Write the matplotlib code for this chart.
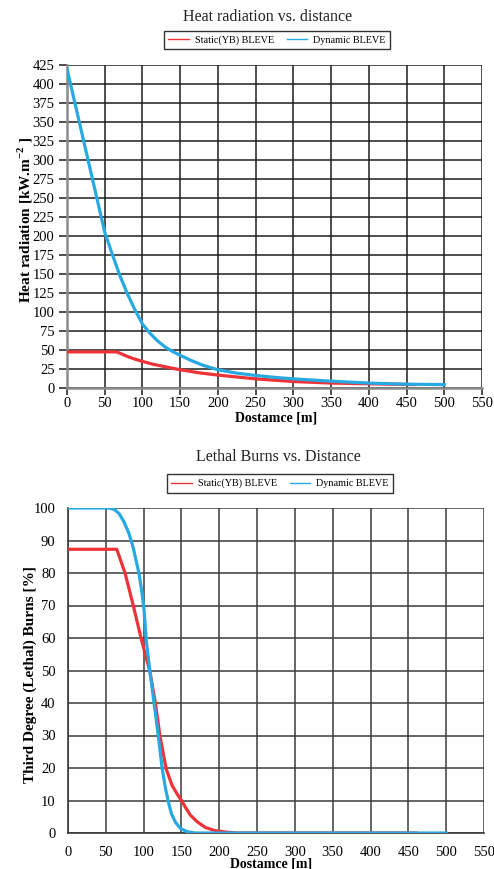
import numpy as np
import matplotlib
matplotlib.use("Agg")
import matplotlib.pyplot as plt

plt.rcParams['font.family'] = ['Liberation Serif', 'DejaVu Serif']
plt.rcParams['mathtext.fontset'] = 'custom'
plt.rcParams['mathtext.rm'] = 'Liberation Serif'
plt.rcParams['mathtext.bf'] = 'Liberation Serif:bold'

# heat radiation vs distance
heat_dist_static = [0, 66, 80, 90, 100, 115, 125, 150, 175, 200, 250, 300, 350, 400, 460]
heat_static = [47.5, 47.5, 41.5, 38, 35, 31, 29, 24, 20, 17, 12, 8.5, 6.5, 5.5, 4.5]
heat_dist_dyn = [0, 50, 60, 70, 80, 90, 100, 110, 120, 130, 140, 150, 165, 180, 200,
                 225, 250, 275, 300, 350, 400, 450, 500]
heat_dyn = [420, 205, 176, 148, 124, 103, 84, 72, 62, 54, 48, 43, 36, 30, 24,
            19.5, 16.5, 14, 12, 9, 6.5, 5, 4.5]

# lethal burns vs distance
burn_dist_static = [0, 64.5, 75.4, 86.4, 97.4, 102.6, 108.3, 115.8, 121.5, 129.8, 137.7,
                    144.3, 150, 155.3, 161.8, 170.6, 181.6, 194.7, 212, 225, 300, 400, 460]
burn_static = [87.3, 87.3, 80, 69.9, 59.2, 54.6, 49.7, 39.6, 30, 19.7, 14.6,
               12, 10, 7.9, 5.5, 3.5, 1.7, 0.7, 0.2, 0, 0, 0, 0]
burn_dist_dyn = [0, 54.4, 61, 67.5, 74.1, 80.7, 86, 90.4, 93.9, 97.4, 100.4, 103.5,
                 108.3, 114, 119.3, 124.6, 129, 132.5, 136.8, 142.1, 148.7, 157.5,
                 168.4, 250, 350, 500]
burn_dyn = [100, 100, 99.6, 98.3, 95.7, 92.1, 88, 83.4, 79.8, 74.6, 69, 59.2,
            49.7, 39.6, 30, 19.7, 13.6, 9.8, 5.9, 3.3, 1.4, 0.4,
            0, 0, 0, 0]

labels = ['Static(YB) BLEVE', 'Dynamic BLEVE']
RED = '#ee3338'
BLUE = '#27a9e1'

W, H = 494, 869
fig = plt.figure(figsize=(W / 100, H / 100), dpi=100)


def style_axes(ax, ymax, ystep, gridc, ticklen, pad):
    ax.set_xlim(0, 550)
    ax.set_ylim(0, ymax)
    ax.set_xticks(np.arange(0, 551, 50))
    ax.set_yticks(np.arange(0, ymax + 1, ystep))
    ax.grid(True, color=gridc, linewidth=1.1)
    ax.set_axisbelow(True)
    ax.tick_params(axis='both', labelsize=10.5, length=ticklen, width=1.1,
                   color=gridc, pad=pad)
    for s in ['top', 'right']:
        ax.spines[s].set_visible(False)
    for s in ['left', 'bottom']:
        ax.spines[s].set_color('#8a8a8a')
        ax.spines[s].set_linewidth(1.8)


# top chart
ax1 = fig.add_axes([67 / W, 1 - 388 / H, 415 / W, 323 / H])
style_axes(ax1, 425, 25, '#1e1e1e', 6, 3)
ax1.tick_params(axis='x', length=5, pad=1.5)
l1, = ax1.plot(heat_dist_static, heat_static, color=RED, lw=2.3, zorder=3)
l2, = ax1.plot(heat_dist_dyn, heat_dyn, color=BLUE, lw=2.3, zorder=4)
ax1.set_xlabel('Dostamce [m]', fontsize=10, fontweight='bold')
ax1.xaxis.set_label_coords(0.504, -0.073)
ax1.set_ylabel(r'Heat radiation [kW.m$^{\mathbf{-2}}$ ]', fontsize=11, fontweight='bold')
ax1.yaxis.set_label_coords(-0.078, 0.52)
fig.text(268 / W, 1 - 17 / H, 'Heat radiation vs. distance', fontsize=11.5,
         ha='center', va='center', color='#222222')

# bottom chart
ax2 = fig.add_axes([68 / W, 1 - 833 / H, 416 / W, 325 / H])
style_axes(ax2, 100, 10, '#3a3a3a', 0, 9)
ax2.spines['left'].set_color('#3a3a3a')
ax2.spines['bottom'].set_color('#3a3a3a')
ax2.spines['left'].set_linewidth(1.2)
ax2.spines['bottom'].set_linewidth(1.2)
ax2.plot(burn_dist_static, burn_static, color=RED, lw=2.3, zorder=3)
ax2.plot(burn_dist_dyn, burn_dyn, color=BLUE, lw=2.3, zorder=4)
ax2.set_xlabel('Dostamce [m]', fontsize=10, fontweight='bold')
ax2.xaxis.set_label_coords(0.489, -0.074)
ax2.set_ylabel('Third Degree (Lethal) Burns [%]', fontsize=11, fontweight='bold')
ax2.yaxis.set_label_coords(-0.074, 0.486)
fig.text(278 / W, 1 - 457 / H, 'Lethal Burns vs. Distance', fontsize=11.5,
         ha='center', va='center', color='#222222')

# legends
for yc, xc in [(40, 277), (483.5, 280)]:
    leg = fig.legend([l1, l2], labels, loc='center', ncol=2,
                     bbox_to_anchor=(xc / W, 1 - yc / H), fontsize=7.3,
                     frameon=True, fancybox=False, edgecolor='black',
                     handlelength=2.0, handletextpad=0.6, columnspacing=1.3,
                     borderpad=0.45)
    leg.get_frame().set_linewidth(1.0)
    for h in leg.get_lines():
        h.set_linewidth(1.0)

fig.savefig('out.png', dpi=100)
